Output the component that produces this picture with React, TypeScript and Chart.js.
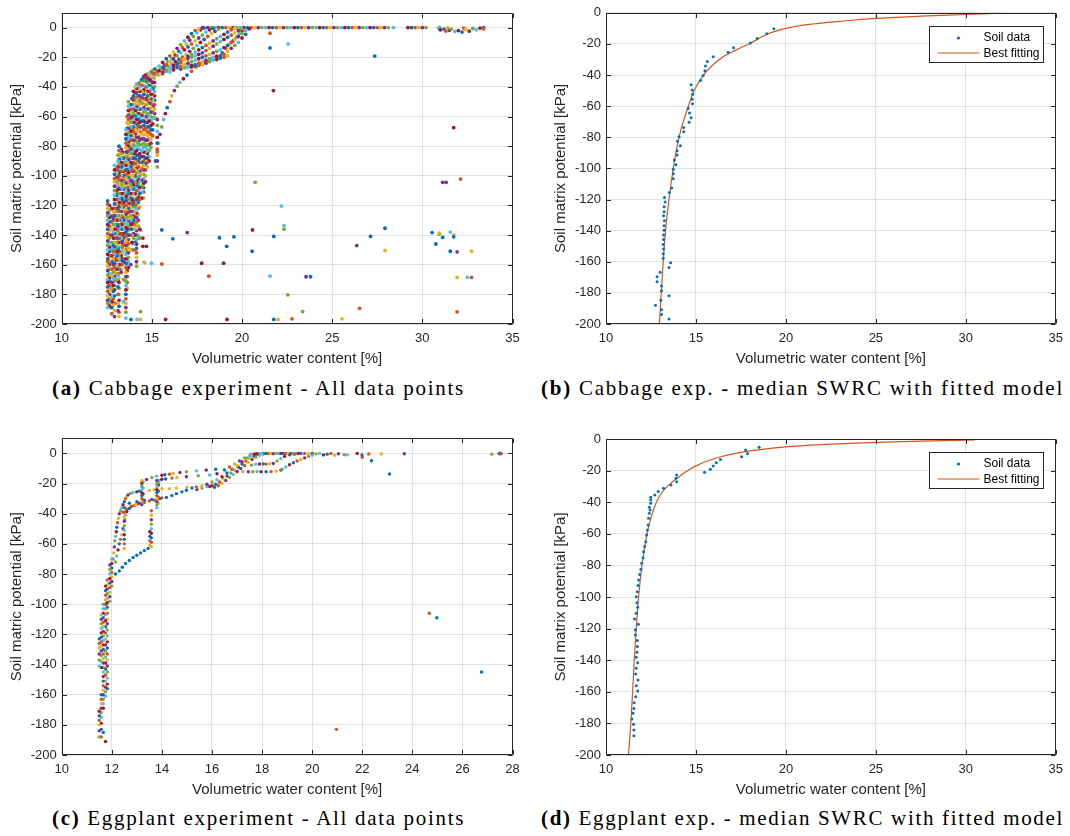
import React, { useEffect, useLayoutEffect, useRef, useState } from 'react';
import { Chart, registerables } from 'chart.js';

Chart.register(...registerables);

// ---------- palette / style ----------
const PALETTE = ['#0072BD', '#D95319', '#EDB120', '#7E2F8E', '#77AC30', '#4DBEEE', '#A2142F'];
const AXIS = '#262626';
const GRID = '#e1e1e1';
const SANS = '"Liberation Sans", Arial, Helvetica, sans-serif';

// ---------- shared ticks ----------
const Y_TICKS = [-200, -180, -160, -140, -120, -100, -80, -60, -40, -20, 0];
const X_TICKS_35 = [10, 15, 20, 25, 30, 35];
const X_TICKS_28 = [10, 12, 14, 16, 18, 20, 22, 24, 26, 28];

// ---------- (a) Cabbage – all data points ----------
const CAB_COL_X = [12.55, 12.65, 12.78, 12.86, 12.93, 13.05, 13.12, 13.18, 13.3, 13.36, 13.42, 13.56, 13.63, 13.7, 13.83, 13.9, 13.98, 14.07, 14.15, 14.24, 14.33, 14.44, 14.55, 14.65, 14.75, 14.85, 14.95, 15.05, 15.15, 15.3];
const CAB_COL_Y: number[][] = [
  [-117, -119, -122, -125, -127, -130, -133, -136, -139, -141, -144, -147, -150, -153, -156, -158, -161, -164, -167, -170, -172, -175, -178, -181, -184, -186, -189],
  [-120, -123, -126, -128, -131, -134, -137, -140, -142, -145, -148, -151, -154, -157, -160, -163, -166, -169, -171, -174, -177, -180, -183, -186, -188],
  [-122, -127, -131, -136, -140, -145, -149, -154, -158, -163, -167, -172, -176, -181, -185, -189, -193],
  [-124, -129, -133, -138, -142, -147, -151, -156, -160, -165, -169, -174, -178, -183, -187],
  [-93, -96, -99, -102, -104, -107, -110, -113, -116, -119, -122, -125, -127, -130, -133, -136, -139, -142, -145, -148, -150, -153, -156, -159, -162, -165, -168, -171, -174, -177, -181, -186, -191, -195],
  [-95, -98, -101, -104, -107, -110, -113, -116, -119, -122, -124, -127, -130, -133, -136, -139, -142, -145, -148, -151, -154, -157, -160, -163, -166, -170],
  [-86, -90, -94, -97, -101, -105, -108, -112, -116, -119, -123, -127, -130, -134, -138, -141, -145, -149, -152, -156, -160, -163, -167, -171, -175, -180, -186, -191],
  [-80, -83, -86, -89, -92, -95, -98, -100, -103, -106, -109, -112, -115, -118, -121, -124, -127, -130, -133, -136, -139, -142, -145, -148, -151, -154, -157, -160, -163, -166, -169, -172, -176, -180, -184, -188, -192, -195],
  [-82, -85, -88, -91, -94, -97, -100, -103, -106, -109, -112, -115, -118, -121, -124, -127, -130, -133, -136, -139, -142, -145, -148, -151, -154, -157, -160, -163, -165],
  [-84, -88, -92, -96, -100, -104, -108, -112, -116, -120, -124, -128, -132, -136, -140, -144, -148, -152, -156, -160],
  [-85, -88, -91, -94, -97, -100, -103, -106, -109, -112, -115, -118, -121, -124, -127, -130, -133, -136, -139, -142, -146, -150, -158, -170, -185],
  [-69, -72, -75, -78, -81, -84, -87, -90, -93, -96, -99, -102, -105, -108, -111, -114, -117, -120, -123, -126, -129, -132, -135, -138, -141, -144, -147, -150, -153, -156, -159, -162, -165, -168, -171, -174, -177, -180, -183, -186, -189, -192, -196],
  [-60, -64, -68, -72, -76, -80, -84, -88, -92, -96, -100, -104, -108, -112, -116, -120, -124, -128, -132, -136, -140, -144, -148, -152, -156, -160, -164, -168, -172, -176],
  [-50, -53, -56, -59, -62, -65, -68, -71, -74, -77, -80, -83, -86, -89, -92, -95, -98, -101, -104, -107, -110, -113, -116, -119, -122, -125, -128, -131, -134, -137, -140, -143, -146, -149, -152, -155, -158, -162],
  [-52, -55, -58, -61, -64, -67, -70, -73, -76, -79, -82, -85, -88, -91, -94, -97, -100, -103, -106, -109, -112, -115, -118, -121, -124, -127, -130, -133, -136, -140, -150, -160],
  [-48, -52, -56, -60, -64, -68, -72, -76, -80, -84, -88, -92, -96, -100, -104, -108, -112, -116, -120, -124, -128, -132, -136, -140, -145, -150],
  [-43, -46, -49, -52, -55, -58, -61, -64, -67, -70, -73, -76, -79, -82, -85, -88, -91, -94, -97, -100, -103, -106, -109, -112, -115, -118, -121, -124, -127, -130, -133, -136, -139, -142, -146],
  [-40, -44, -48, -52, -56, -60, -64, -68, -72, -76, -80, -84, -88, -92, -96, -100, -104, -108, -112, -116, -120, -124, -128, -132, -136, -140, -145, -150],
  [-38, -41, -44, -47, -50, -53, -56, -59, -62, -65, -68, -71, -74, -77, -80, -83, -86, -89, -92, -95, -98, -101, -104, -107, -110, -113, -116, -119, -122, -125, -128, -131, -134, -137, -140, -143, -146, -149, -152, -155, -158, -161],
  [-38, -42, -46, -50, -54, -58, -62, -66, -70, -74, -78, -82, -86, -90, -94, -98, -102, -106, -110, -114, -118, -122, -126, -130, -134, -140],
  [-37, -40, -43, -46, -49, -52, -55, -58, -61, -64, -67, -70, -73, -76, -79, -82, -85, -88, -91, -94, -97, -100, -104, -108, -112, -116, -121, -136, -142],
  [-35, -39, -43, -47, -51, -55, -59, -63, -67, -71, -75, -79, -83, -87, -91, -95, -99, -103, -107, -111, -115],
  [-33, -36, -39, -42, -45, -48, -51, -54, -57, -60, -63, -66, -69, -72, -75, -78, -81, -84, -87, -90, -93, -96, -99, -102, -105, -108, -111, -115],
  [-32, -36, -40, -44, -48, -52, -56, -60, -64, -68, -72, -76, -80, -84, -88, -92, -96, -100, -104],
  [-31, -34, -37, -40, -43, -46, -49, -52, -55, -58, -61, -64, -67, -70, -73, -76, -79, -82, -85, -88, -91, -94],
  [-31, -35, -39, -43, -47, -51, -55, -59, -63, -67, -71, -75, -79, -83, -87, -90],
  [-30, -33, -36, -39, -42, -45, -48, -51, -54, -57, -60, -63, -66, -69, -72, -75, -78, -81],
  [-29, -33, -37, -41, -45, -49, -53, -57, -61, -65, -69, -73],
  [-28, -31, -34, -37, -40, -43, -46, -49, -52, -55, -58, -61],
  [-62, -66, -70, -74, -78, -82, -86, -90, -94],
];
const CAB_FAN_1 = [[14.6, -34], [14.8, -32], [15.0, -30], [15.2, -28], [15.4, -26], [15.6, -23.5], [15.8, -21], [16.0, -19], [16.2, -16.5], [16.4, -14], [16.6, -11.5], [16.8, -9], [17.0, -6.5], [17.2, -4], [17.4, -2], [17.6, -0.8], [17.8, 0]];
const CAB_FAN_2 = [[15.0, -33], [15.2, -31], [15.4, -29], [15.6, -27], [15.8, -25], [16.0, -23], [16.2, -21], [16.4, -19], [16.6, -17], [16.8, -15], [17.0, -13], [17.2, -11], [17.4, -9], [17.6, -7], [17.8, -5], [18.0, -3], [18.2, -1.5], [18.4, -0.5]];
const CAB_FAN_3 = [[15.4, -32], [15.6, -30], [15.8, -28.5], [16.0, -27], [16.2, -25.5], [16.4, -24], [16.6, -22.5], [16.8, -21], [17.0, -19.5], [17.2, -18], [17.4, -16.5], [17.6, -15], [17.8, -13.5], [18.0, -12], [18.2, -10.5], [18.4, -9], [18.6, -7.5], [18.8, -6], [19.0, -4.5], [19.2, -3], [19.4, -1.5], [19.6, -0.5]];
const CAB_FAN_4 = [[16.0, -30], [16.2, -28.5], [16.4, -27], [16.6, -26], [16.8, -25], [17.0, -24], [17.2, -23], [17.4, -22], [17.6, -21], [17.8, -20], [18.0, -19], [18.2, -18], [18.4, -17], [18.6, -16], [18.8, -15], [19.0, -13.5], [19.2, -12], [19.4, -10], [19.6, -8], [19.8, -6], [20.0, -4], [20.2, -2], [20.4, -0.8]];
const CAB_FAN_5 = [[16.6, -28], [16.8, -27], [17.0, -26], [17.2, -25.5], [17.4, -25], [17.6, -24], [17.8, -23], [18.0, -22], [18.2, -21], [18.4, -20], [18.6, -19.5], [18.8, -19], [19.0, -18], [19.2, -16], [19.4, -14], [19.6, -12], [19.8, -10], [20.0, -7], [20.2, -4.5]];
const CAB_FAN_6 = [[14.9, -35], [15.1, -33.5], [15.3, -31.5], [15.5, -30], [15.7, -28], [15.9, -26], [16.1, -24.5], [16.3, -23], [16.5, -21.5], [16.7, -20], [16.9, -18], [17.1, -16], [17.3, -14], [17.5, -12], [17.7, -10], [17.9, -8], [18.1, -6], [18.3, -4], [18.5, -2.5], [18.7, -1]];
const CAB_FAN_7 = [[15.1, -31], [15.3, -29.5], [15.5, -27.5], [15.7, -25.5], [15.9, -23], [16.1, -21], [16.3, -18.5], [16.5, -16], [16.7, -13.5], [16.9, -11], [17.1, -8.5], [17.3, -6], [17.5, -3.5], [17.7, -1.5], [17.9, -0.3]];
const CAB_FAN_8 = [[15.6, -31], [15.8, -29.5], [16.0, -28], [16.2, -26.5], [16.4, -25], [16.6, -23.5], [16.8, -22], [17.0, -21], [17.2, -20], [17.4, -19], [17.6, -18], [17.8, -17], [18.0, -15.5], [18.2, -14], [18.4, -12.5], [18.6, -11], [18.8, -9.5], [19.0, -8], [19.2, -6.5], [19.4, -5], [19.6, -3.5], [19.8, -2], [20.0, -0.8]];
const CAB_FAN_9 = [[17.0, -27], [17.2, -26.5], [17.4, -26], [17.6, -25.5], [17.8, -25], [18.0, -24], [18.2, -23], [18.4, -22], [18.6, -21.5], [18.8, -20.5], [19.0, -20], [19.2, -19]];
const CAB_LOWER = [[15.2, -90], [15.3, -84], [15.37, -78], [15.45, -72], [15.55, -67], [15.65, -62], [15.75, -58], [15.85, -54], [16.0, -50], [16.1, -46], [16.25, -42.5], [16.4, -39.5], [16.55, -37], [16.75, -34.5], [16.95, -32], [17.2, -29.5], [17.45, -27], [17.7, -24.5], [18.0, -23], [18.3, -21], [18.6, -19.5], [18.9, -17], [19.1, -14], [19.3, -11.5], [19.5, -9], [19.7, -6.5], [19.85, -4], [20.0, -2]];
const CAB_ZERO_X = [17.9, 18.1, 18.3, 18.5, 18.7, 18.9, 19.1, 19.3, 19.5, 19.7, 19.9, 20.1, 20.3, 20.5, 20.7, 20.9, 21.1, 21.3, 21.5, 21.7, 21.9, 22.1, 22.3, 22.5, 22.7, 22.9, 23.1, 23.3, 23.5, 23.7, 23.9, 24.1, 24.3, 24.5, 24.7, 24.9, 25.1, 25.3, 25.5, 25.7, 25.9, 26.1, 26.3, 26.5, 26.7, 26.9, 27.1, 27.3, 27.5, 27.7, 27.9, 28.1, 28.4, 29.2, 29.4, 29.6, 29.8, 30.0, 30.2];
const CAB_RIGHT = [[30.95, 0.2], [30.9, -0.5], [31.0, -1.5], [31.2, -1], [31.3, -2.3], [31.4, 0], [31.5, -1.8], [31.6, -1], [31.8, -2.5], [32.0, -2], [32.2, -3], [32.3, -0.3], [32.4, -1.2], [32.6, -2.4], [32.8, -0.6], [33.0, -1.5], [33.2, -0.3], [33.4, 0], [33.4, -0.8]];
const CAB_OUT_BLUE = [[21.55, -13.7], [27.36, -19.2], [15.55, -136.5], [16.16, -142.5], [18.75, -141.8], [19.55, -141.2], [19.15, -147.6], [20.56, -150.9], [21.76, -140.9], [23.8, -168.1], [21.76, -196.9], [27.13, -140.9], [27.93, -135.4], [30.54, -138.3], [30.75, -146], [31.13, -141.6], [31.74, -141.2], [31.55, -150.9], [13.84, -196.9]];
const CAB_OUT_ORANGE = [[21.55, -3.8], [32.12, -102.2], [15.55, -159.5], [18.16, -167.7], [26.52, -189.4], [22.77, -196.5], [32.73, -168.6], [31.93, -191.8], [14.37, -136.5]];
const CAB_OUT_YELLOW = [[27.93, -150.4], [30.94, -138.7], [31.74, -139.8], [32.73, -150.9], [31.93, -168.6], [22.0, -196.9], [25.55, -196.5], [14.37, -196.9], [14.56, -158.2]];
const CAB_OUT_PURPLE = [[16.96, -138.3], [26.36, -147.1], [31.13, -104.4], [31.32, -104.4], [23.55, -168.1], [31.93, -151.3], [14.3, -142]];
const CAB_OUT_GREEN = [[20.73, -104.4], [22.33, -136], [22.54, -180.3], [23.36, -191.6], [30.94, -139.4], [14.37, -191.6]];
const CAB_OUT_CYAN = [[22.56, -11.1], [22.18, -120.4], [22.33, -133.6], [14.98, -159], [21.55, -167.7], [32.5, -168.6], [31.55, -138], [14.18, -196.9], [14.6, -158.6]];
const CAB_OUT_DARKRED = [[21.74, -42.5], [31.74, -67.5], [20.58, -136.5], [17.76, -159], [18.98, -159], [19.17, -196.9], [15.76, -196.9], [14.5, -142], [14.5, -147.6], [14.7, -147.6]];

// ---------- (b) Cabbage – median SWRC + fit ----------
const CAB_MED = [[19.33, -10.3], [18.94, -13.5], [18.41, -16.5], [18.02, -19.4], [17.09, -22.4], [16.79, -25.3], [15.96, -28.3], [15.63, -31.3], [15.53, -34.2], [15.5, -37.2], [15.4, -40.3], [15.25, -43.5], [14.73, -46.3], [14.79, -49.6], [14.82, -52.4], [14.79, -55.5], [14.81, -58.5], [14.56, -61.5], [14.64, -64.4], [14.73, -67.4], [14.62, -70.3], [14.32, -73.7], [14.32, -76.5], [14.06, -79.6], [13.98, -82.6], [14.13, -85.5], [13.95, -88.7], [13.95, -91.4], [13.8, -94.6], [13.89, -97.6], [13.74, -100.5], [13.74, -103.5], [13.74, -106.7], [13.65, -112.6], [13.52, -115.5], [13.25, -118.7], [13.29, -121.6], [13.23, -124.6], [13.23, -127.8], [13.2, -130.5], [13.25, -133.7], [13.23, -136.9], [13.23, -139.8], [13.2, -142.8], [13.2, -145.7], [13.18, -148.9], [13.2, -151.8], [13.18, -154.8], [13.18, -157.8], [13.59, -160.7], [13.5, -163.7], [13.01, -166.8], [12.84, -169.6], [12.84, -172.8], [13.09, -175.5], [13.09, -178.7], [13.5, -181.8], [13.05, -184.8], [12.75, -188], [13.09, -190.9], [13.09, -193.9], [13.5, -196.8]];
const CAB_FIT = [[12.97, -200], [13.07, -180], [13.18, -160], [13.31, -140], [13.5, -120], [13.74, -100], [14.06, -80], [14.58, -60], [14.9, -50], [15.42, -40], [16.3, -30], [17.2, -24], [17.95, -20], [19.0, -13.5], [20.0, -10], [21.5, -7.2], [23.0, -5.5], [25.0, -3.6], [27.5, -2.2], [30.0, -1.1], [31.9, -0.2]];

// ---------- (c) Eggplant – all data points ----------
const EGG_COL_X = [11.5, 11.58, 11.66, 11.75, 11.82, 11.92, 12.0, 12.5, 13.2, 13.25, 13.52, 13.58, 13.8, 13.86];
const EGG_COL_Y: number[][] = [
  [-123, -126, -129, -133, -137, -141, -171, -174, -177, -180, -184, -188],
  [-107, -110, -113, -116, -119, -122, -125, -128, -131, -134, -138, -142, -160, -163, -166, -169, -172, -175, -179, -183, -188],
  [-100, -103, -106, -109, -112, -115, -118, -121, -124, -127, -130, -133, -136, -139, -142, -145, -148, -151, -154, -157, -160, -163, -166, -169, -185],
  [-88, -91, -94, -97, -100, -103, -107, -111, -115, -119, -123, -127, -131, -135, -139, -143, -147, -151, -155, -158, -161, -191],
  [-84, -87, -90, -93, -96, -99, -102, -106, -110, -113, -117, -121, -125, -129, -133, -137, -141, -145, -149, -153, -156],
  [-74, -77, -80, -83, -86, -89, -92, -95, -98],
  [-70, -73, -76, -79, -82, -85, -88],
  [-36, -39, -42, -45, -48, -51, -54, -57, -60, -63],
  [-18, -20, -22, -24, -26, -28, -30, -32, -34],
  [-19, -23, -27, -31],
  [-52, -55, -58, -61],
  [-38, -41, -44, -47, -50, -53, -56, -59, -62],
  [-18, -20, -22, -24, -26, -28, -30, -32, -34, -36],
  [-19, -21, -25, -29, -33],
];
const EGG_STEEP_A = [[12.05, -70], [12.08, -66], [12.1, -62], [12.12, -58], [12.15, -55], [12.18, -52], [12.2, -49], [12.23, -46], [12.27, -43], [12.3, -40], [12.35, -38], [12.4, -36], [12.45, -34], [12.5, -32], [12.55, -30], [12.6, -28.5], [12.65, -27.5], [12.75, -26.5], [12.85, -26], [13.0, -25.5], [13.1, -25]];
const EGG_STEEP_B = [[12.15, -72], [12.2, -68], [12.25, -64], [12.3, -60], [12.35, -57], [12.4, -54], [12.45, -50], [12.52, -44], [12.55, -41], [12.6, -38.5], [12.7, -36.5], [12.8, -35], [12.95, -34], [13.1, -33]];
const EGG_BLUE_DIAG = [[13.45, -63], [13.3, -64.5], [13.15, -66], [13.0, -67.5], [12.85, -69], [12.7, -71], [12.55, -73], [12.42, -75.5], [12.3, -78], [12.15, -80]];
const EGG_ROW_U1 = [[13.19, -18.9], [13.39, -17.3], [13.6, -16], [13.79, -15.1], [14.0, -14.5], [14.12, -14.2], [14.3, -13.8], [14.45, -13.3], [14.72, -12.7], [14.98, -12.2], [15.38, -11.6], [15.77, -11.1], [16.15, -10.5]];
const EGG_ROW_U2 = [[13.9, -18], [14.0, -17.2], [14.15, -17], [14.4, -16.4], [14.6, -16], [14.98, -15.5], [15.45, -14.8], [15.9, -14.3], [16.2, -13.5], [16.5, -11], [16.7, -9], [16.9, -7], [17.1, -5], [17.3, -3], [17.5, -1.5], [17.7, -0.5]];
const EGG_RISE_1 = [[15.2, -23], [15.38, -22.2], [15.6, -21.5], [15.8, -20.5], [16.0, -19], [16.2, -17.5], [16.4, -15.5], [16.6, -13], [16.8, -10.5], [17.0, -8], [17.2, -5.5], [17.4, -3], [17.6, -1.2], [17.8, -0.3]];
const EGG_RISE_2 = [[15.4, -24], [15.6, -23], [15.8, -22], [16.0, -21.5], [16.15, -20.5], [16.3, -19], [16.45, -17], [16.6, -15], [16.75, -13], [16.9, -11], [17.05, -9], [17.2, -7], [17.35, -5], [17.5, -3.2], [17.65, -1.8], [17.8, -0.8], [18.0, -0.2]];
const EGG_RISE_3 = [[15.9, -22], [16.1, -22.5], [16.25, -21.5], [16.4, -20], [16.55, -18], [16.7, -16], [16.85, -14], [17.0, -12], [17.15, -10], [17.3, -8], [17.45, -6], [17.6, -4], [17.75, -2.5], [17.9, -1.2]];
const EGG_LOW_BLUE = [[12.7, -33], [13.0, -32], [13.3, -31], [13.6, -30.5], [13.92, -30], [14.18, -29.3], [14.4, -28], [14.58, -26.7], [14.8, -25.5], [14.98, -24.4]];
const EGG_ORANGE = [[12.45, -39], [12.6, -37], [12.75, -35.5], [12.9, -34.5], [13.05, -33.5], [13.3, -32.5], [13.5, -31.5], [13.7, -31], [13.9, -30], [14.0, -29.5]];
const EGG_YELLOW = [[13.5, -24.5], [13.7, -24], [14.0, -23.5], [14.3, -23.5], [14.58, -23], [15.0, -22.5]];
const EGG_LOOP_A = [[17.58, -7.8], [17.75, -7.2], [17.9, -7], [18.05, -7], [18.16, -7.1], [18.3, -6.8], [18.45, -6.7], [18.6, -5], [18.75, -3.5], [18.9, -2], [19.1, -1], [19.3, -0.5]];
const EGG_LOOP_B = [[17.23, -12.2], [17.45, -12.2], [17.63, -12.2], [17.8, -12], [17.96, -12.2], [18.16, -12.2], [18.36, -12.1], [18.56, -11.8], [18.75, -11.1], [18.8, -10.5], [18.95, -9], [19.1, -7.5], [19.25, -6.2], [19.4, -5], [19.55, -4], [19.7, -3], [19.85, -2], [20.0, -1.2]];
const EGG_TOP = [[17.55, -0.8], [17.65, -0.5], [17.75, -0.3], [17.85, -0.2], [17.95, 0], [18.05, -0.2], [18.15, 0], [18.25, -0.1], [18.35, 0], [18.45, -0.2], [18.55, 0], [18.65, -0.1], [18.75, 0], [18.85, 0], [18.95, -0.1], [19.05, 0], [19.15, 0], [19.25, -0.2], [19.35, 0], [19.45, 0], [19.55, 0], [19.7, -0.1], [19.85, 0], [20.0, 0], [20.15, -0.3], [20.3, 0], [20.45, -1], [20.6, -0.5], [20.75, 0], [20.9, -1.2], [21.05, -0.2], [21.28, -0.9], [21.4, -1], [21.8, 0], [21.99, -1.1], [22.26, -0.4], [22.76, -0.4], [23.68, -0.2], [27.17, -0.5], [27.45, 0], [27.5, -0.3], [27.5, 0.2], [27.55, -0.1]];
const EGG_OUT_BLUE = [[22.37, -4.9], [23.09, -13.7], [24.98, -109], [26.76, -145]];
const EGG_OUT_ORANGE = [[22.0, -2.5], [24.68, -106], [20.97, -183]];

// ---------- (d) Eggplant – median SWRC + fit ----------
const EGG_MED = [[18.51, -5.3], [17.76, -7], [17.87, -9.1], [17.54, -11.2], [16.36, -12.9], [16.13, -15], [15.96, -17.1], [15.8, -19.2], [15.48, -21.1], [13.93, -22.8], [13.89, -24.9], [13.93, -27], [13.61, -29.1], [13.2, -31.2], [12.9, -33.3], [12.71, -35.4], [12.49, -36.9], [12.49, -38.6], [12.49, -40.7], [12.41, -43.2], [12.45, -44.9], [12.41, -47], [12.37, -50.2], [12.34, -54.4], [12.3, -57.6], [12.26, -60.8], [12.21, -65], [12.15, -68.1], [12.09, -71.3], [12.06, -75.1], [11.98, -78.7], [11.94, -82.5], [11.87, -85.7], [11.81, -89.2], [11.78, -92.8], [11.74, -96.6], [11.68, -99.8], [11.72, -103.6], [11.76, -106.5], [11.68, -110.3], [11.59, -113.9], [11.8, -117.3], [11.63, -120.9], [11.63, -124], [11.74, -127.6], [11.74, -131.4], [11.72, -135], [11.68, -138.2], [11.76, -141.6], [11.68, -145.1], [11.65, -148.7], [11.78, -152.5], [11.68, -156.1], [11.76, -159.5], [11.65, -163.1], [11.57, -166.9], [11.55, -170.5], [11.5, -173.6], [11.44, -177.2], [11.53, -180.6], [11.55, -184.2], [11.55, -187.8]];
const EGG_FIT = [[11.25, -200], [11.38, -180], [11.48, -160], [11.57, -140], [11.68, -120], [11.81, -100], [12.0, -80], [12.28, -60], [12.5, -50], [12.8, -40], [13.1, -34], [13.5, -29], [14.0, -24.5], [14.4, -21], [15.0, -17], [16.0, -12.5], [17.5, -8.5], [20.0, -5], [22.5, -3.3], [25.0, -2.1], [27.5, -1.3], [30.5, -0.6]];

// ---------- helpers ----------
const pts = (arr: number[][]) => arr.map(([x, y]) => ({ x, y }));
const cyc = (offset: number) => (ctx: any) => PALETTE[(ctx.dataIndex + offset) % PALETTE.length];

const dots = (data: any[], color: any, r = 1.9) => ({
  type: 'scatter',
  data,
  backgroundColor: color,
  borderWidth: 0,
  pointRadius: r,
  pointHoverRadius: r,
  pointStyle: 'circle',
  showLine: false,
});

const boxPlugin = {
  id: 'matlabBox',
  afterDatasetsDraw(chart: any) {
    const { ctx, chartArea: a, scales } = chart;
    const xs = scales.x;
    const ys = scales.y;
    const L = Math.round(a.left) + 0.5;
    const R = Math.round(a.right) - 0.5;
    const T = Math.round(a.top) + 0.5;
    const B = Math.round(a.bottom) - 0.5;
    const tl = 4.5;
    ctx.save();
    ctx.strokeStyle = AXIS;
    ctx.lineWidth = 1;
    ctx.beginPath();
    ctx.rect(L, T, R - L, B - T);
    xs.ticks.forEach((t: any) => {
      const p = Math.round(xs.getPixelForValue(t.value)) + 0.5;
      ctx.moveTo(p, B); ctx.lineTo(p, B - tl);
      ctx.moveTo(p, T); ctx.lineTo(p, T + tl);
    });
    ys.ticks.forEach((t: any) => {
      const p = Math.round(ys.getPixelForValue(t.value)) + 0.5;
      ctx.moveTo(L, p); ctx.lineTo(L + tl, p);
      ctx.moveTo(R, p); ctx.lineTo(R - tl, p);
    });
    ctx.stroke();
    ctx.restore();
  },
};

const legendPlugin = {
  id: 'fitLegend',
  afterDraw(chart: any) {
    const { ctx, chartArea: a } = chart;
    const ds = chart.data.datasets;
    const w = 114;
    const h = 36;
    const x0 = Math.round(a.right - 13 - w) + 0.5;
    const y0 = Math.round(a.top + 13) + 0.5;
    ctx.save();
    ctx.fillStyle = '#ffffff';
    ctx.fillRect(x0, y0, w, h);
    ctx.strokeStyle = AXIS;
    ctx.lineWidth = 1;
    ctx.strokeRect(x0, y0, w, h);
    ctx.fillStyle = PALETTE[0];
    ctx.beginPath();
    ctx.arc(x0 + 29, y0 + 11.5, 1.6, 0, Math.PI * 2);
    ctx.fill();
    ctx.strokeStyle = PALETTE[1];
    ctx.lineWidth = 1.2;
    ctx.beginPath();
    ctx.moveTo(x0 + 8, y0 + 26.5);
    ctx.lineTo(x0 + 50, y0 + 26.5);
    ctx.stroke();
    ctx.fillStyle = '#000';
    ctx.font = `12px ${SANS}`;
    ctx.textBaseline = 'middle';
    ctx.textAlign = 'left';
    ctx.fillText(ds[0].label, x0 + 54, y0 + 11.5);
    ctx.fillText(ds[1].label, x0 + 54, y0 + 27);
    ctx.restore();
  },
};

type Area = { l: number; t: number; r: number; b: number };
type PanelProps = {
  left: number; top: number; width: number; height: number; area: Area;
  xMin: number; xMax: number; xTicks: number[]; yMax: number;
  xTitle: string; yTitle: string; yTitleX: number; datasets: any[]; legend?: boolean;
};

function Panel(p: PanelProps) {
  const ref = useRef<HTMLCanvasElement>(null);
  useEffect(() => {
    if (!ref.current) return;
    const yW = p.area.l - p.left;
    const xH = p.top + p.height - p.area.b;
    const titleFont = { family: SANS, size: 15, lineHeight: 1.2 };
    const tickFont = { family: SANS, size: 13, lineHeight: 1.2 };
    const xTitleBottom = p.top + p.height - (p.area.b + 34.5) - 9;
    const yTitleTop = p.yTitleX - p.left - 9;
    const chart = new Chart(ref.current, {
      type: 'scatter',
      data: { datasets: p.datasets },
      options: {
        animation: false,
        responsive: false,
        maintainAspectRatio: false,
        events: [],
        layout: { padding: { left: 0, top: p.area.t - p.top, right: p.left + p.width - p.area.r, bottom: 0 }, autoPadding: false },
        plugins: { legend: { display: false }, tooltip: { enabled: false }, title: { display: false } },
        scales: {
          x: {
            type: 'linear', position: 'bottom', min: p.xMin, max: p.xMax,
            afterBuildTicks: (s: any) => { s.ticks = p.xTicks.map((v) => ({ value: v })); },
            afterFit: (s: any) => { s.height = xH; },
            grid: { color: GRID, drawTicks: false, lineWidth: 1 },
            border: { display: false },
            ticks: { font: tickFont, color: AXIS, padding: 7, maxRotation: 0, autoSkip: false, callback: (v: any) => String(v) },
            title: { display: true, text: p.xTitle, font: titleFont, color: AXIS, padding: { top: 0, bottom: xTitleBottom } },
          },
          y: {
            type: 'linear', position: 'left', min: -200, max: p.yMax,
            afterBuildTicks: (s: any) => { s.ticks = Y_TICKS.map((v) => ({ value: v })); },
            afterFit: (s: any) => { s.width = yW; },
            grid: { color: GRID, drawTicks: false, lineWidth: 1 },
            border: { display: false },
            ticks: { font: tickFont, color: AXIS, padding: 5, autoSkip: false, callback: (v: any) => String(v) },
            title: { display: true, text: p.yTitle, font: titleFont, color: AXIS, padding: { top: yTitleTop, bottom: 0 } },
          },
        },
      } as any,
      plugins: p.legend ? [boxPlugin, legendPlugin] : [boxPlugin],
    } as any);
    return () => chart.destroy();
  }, []);
  return (
    <canvas
      ref={ref}
      width={p.width}
      height={p.height}
      style={{ position: 'absolute', left: p.left, top: p.top, width: p.width, height: p.height }}
    />
  );
}

function Caption({ tag, text, left, right, cy }: { tag: string; text: string; left: number; right: number; cy: number }) {
  const ref = useRef<HTMLDivElement>(null);
  const [ls, setLs] = useState(0);
  useLayoutEffect(() => {
    const el = ref.current;
    if (!el) return;
    el.style.letterSpacing = '0px';
    const w = el.getBoundingClientRect().width;
    const n = (tag + ' ' + text).length;
    setLs((right - left - w) / n);
  }, []);
  return (
    <div
      ref={ref}
      style={{
        position: 'absolute', left, top: cy - 13, whiteSpace: 'nowrap',
        fontFamily: '"Liberation Serif", "Times New Roman", serif', fontSize: 21, lineHeight: '26px',
        letterSpacing: ls, color: '#000',
      }}
    >
      <b>{tag}</b> {text}
    </div>
  );
}

export default function App() {
  const cabDatasets = [
    ...CAB_COL_X.map((x, i) => dots(CAB_COL_Y[i].map((y) => ({ x, y })), cyc(i * 3))),
    dots(pts(CAB_FAN_1), cyc(1)),
    dots(pts(CAB_FAN_2), cyc(4)),
    dots(pts(CAB_FAN_3), cyc(2)),
    dots(pts(CAB_FAN_4), cyc(5)),
    dots(pts(CAB_FAN_5), cyc(3)),
    dots(pts(CAB_FAN_6), cyc(6)),
    dots(pts(CAB_FAN_7), cyc(0)),
    dots(pts(CAB_FAN_8), cyc(3)),
    dots(pts(CAB_FAN_9), cyc(5)),
    dots(pts(CAB_LOWER), cyc(0)),
    dots(CAB_ZERO_X.map((x) => ({ x, y: 0 })), cyc(2)),
    dots(pts(CAB_RIGHT), cyc(4)),
    dots(pts(CAB_OUT_BLUE), PALETTE[0]),
    dots(pts(CAB_OUT_ORANGE), PALETTE[1]),
    dots(pts(CAB_OUT_YELLOW), PALETTE[2]),
    dots(pts(CAB_OUT_PURPLE), PALETTE[3]),
    dots(pts(CAB_OUT_GREEN), PALETTE[4]),
    dots(pts(CAB_OUT_CYAN), PALETTE[5]),
    dots(pts(CAB_OUT_DARKRED), PALETTE[6]),
  ];
  const eggDatasets = [
    ...EGG_COL_X.map((x, i) => dots(EGG_COL_Y[i].map((y) => ({ x, y })), cyc(i * 2), 1.7)),
    dots(pts(EGG_STEEP_A), cyc(1), 1.7),
    dots(pts(EGG_STEEP_B), cyc(4), 1.7),
    dots(pts(EGG_BLUE_DIAG), PALETTE[0], 1.7),
    dots(pts(EGG_ROW_U1), cyc(2), 1.7),
    dots(pts(EGG_ROW_U2), cyc(5), 1.7),
    dots(pts(EGG_RISE_1), cyc(0), 1.7),
    dots(pts(EGG_RISE_2), cyc(3), 1.7),
    dots(pts(EGG_RISE_3), cyc(6), 1.7),
    dots(pts(EGG_LOW_BLUE), PALETTE[0], 1.7),
    dots(pts(EGG_ORANGE), PALETTE[1], 1.7),
    dots(pts(EGG_YELLOW), PALETTE[2], 1.7),
    dots(pts(EGG_LOOP_A), cyc(4), 1.7),
    dots(pts(EGG_LOOP_B), cyc(2), 1.7),
    dots(pts(EGG_TOP), cyc(1), 1.7),
    dots(pts(EGG_OUT_BLUE), PALETTE[0], 1.7),
    dots(pts(EGG_OUT_ORANGE), PALETTE[1], 1.7),
  ];
  const fitDatasets = (med: number[][], fit: number[][]) => [
    { ...dots(pts(med), PALETTE[0], 1.5), label: 'Soil data' },
    {
      type: 'scatter', label: 'Best fitting', data: pts(fit), showLine: true, pointRadius: 0, pointHoverRadius: 0,
      borderColor: PALETTE[1], borderWidth: 1.2, backgroundColor: PALETTE[1], cubicInterpolationMode: 'monotone', fill: false,
    },
  ];
  return (
    <div style={{ position: 'absolute', left: 0, top: 0, width: 1070, height: 836, background: '#fff', overflow: 'hidden' }}>
      <Panel left={0} top={0} width={530} height={372} area={{ l: 61.7, t: 7.3, r: 512.5, b: 324 }}
        xMin={10} xMax={35} xTicks={X_TICKS_35} yMax={10}
        xTitle="Volumetric water content [%]" yTitle="Soil matric potential [kPa]" yTitleX={17}
        datasets={cabDatasets} />
      <Panel left={535} top={0} width={535} height={372} area={{ l: 606, t: 7.3, r: 1058.3, b: 324 }}
        xMin={10} xMax={35} xTicks={X_TICKS_35} yMax={0}
        xTitle="Volumetric water content [%]" yTitle="Soil matrix potential [kPa]" yTitleX={561}
        datasets={fitDatasets(CAB_MED, CAB_FIT)} legend />
      <Panel left={0} top={420} width={530} height={380} area={{ l: 61.7, t: 438.3, r: 512.5, b: 755 }}
        xMin={10} xMax={28} xTicks={X_TICKS_28} yMax={10}
        xTitle="Volumetric water content [%]" yTitle="Soil matric potential [kPa]" yTitleX={17}
        datasets={eggDatasets} />
      <Panel left={535} top={420} width={535} height={380} area={{ l: 606, t: 439, r: 1058.3, b: 755 }}
        xMin={10} xMax={35} xTicks={X_TICKS_35} yMax={0}
        xTitle="Volumetric water content [%]" yTitle="Soil matrix potential [kPa]" yTitleX={561}
        datasets={fitDatasets(EGG_MED, EGG_FIT)} legend />
      <Caption tag="(a)" text="Cabbage experiment - All data points" left={52} right={465} cy={388} />
      <Caption tag="(b)" text="Cabbage exp. - median SWRC with fitted model" left={541} right={1064} cy={388} />
      <Caption tag="(c)" text="Eggplant experiment - All data points" left={52} right={465} cy={818} />
      <Caption tag="(d)" text="Eggplant exp. - median SWRC with fitted model" left={541} right={1064} cy={818} />
    </div>
  );
}
